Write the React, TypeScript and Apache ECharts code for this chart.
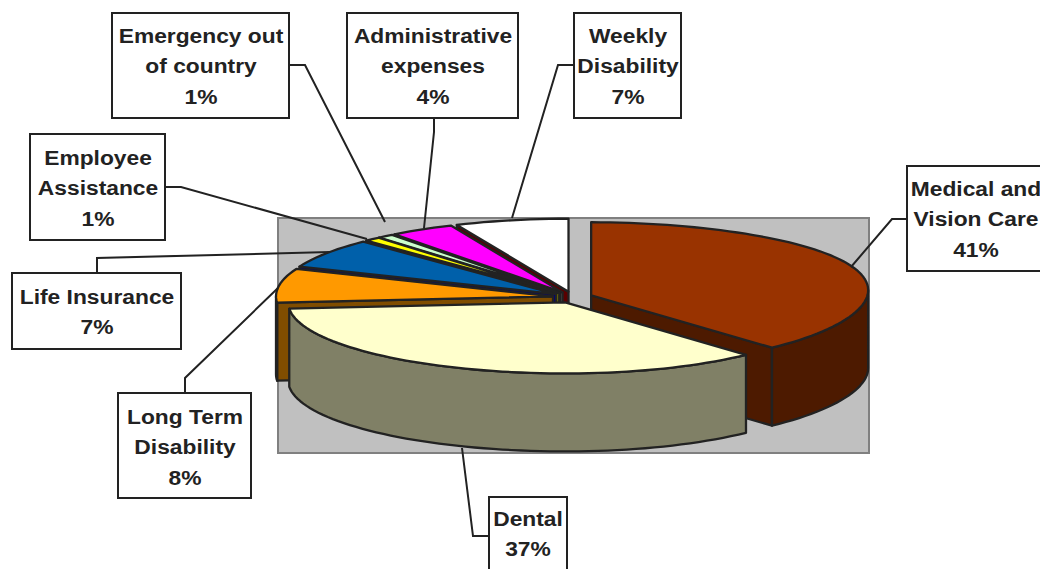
import React, { useEffect, useRef } from "react";
import * as echarts from "echarts";

const categories = [
  "Medical and\nVision Care",
  "Dental",
  "Long Term\nDisability",
  "Life Insurance",
  "Employee\nAssistance",
  "Emergency out\nof country",
  "Administrative\nexpenses",
  "Weekly\nDisability",
];
const shares = [41, 37, 8, 7, 1, 1, 4, 7];
const topColors = ["#993300", "#FFFFCC", "#FF9900", "#0060AA", "#FFFF00", "#CCFFCC", "#FF00FF", "#FFFFFF"];
const sideColors = ["#4D1A00", "#808066", "#804D00", "#000080", "#808000", "#707870", "#787878", "#5A0000"];
const drawOrder = [7, 6, 5, 4, 3, 2, 0, 1];

// layout of the label boxes: [left, top, right, bottom, text centre x, first-line centre y]
const boxes = [
  [907, 166, 1060, 271, 976, 188],
  [489, 497, 567, 580, 528, 518],
  [118, 393, 251, 498, 185, 416],
  [12, 273, 181, 349, 97, 296],
  [30, 134, 165, 240, 98, 157],
  [112, 13, 289, 118, 201, 35],
  [347, 13, 518, 118, 433, 35],
  [574, 13, 681, 118, 628, 35],
];
const leaders = [
  [[907, 219], [892, 219], [851, 267]],
  [[489, 536], [473, 536], [462, 448]],
  [[185, 393], [185, 378], [278, 288]],
  [[97, 273], [97, 258], [330, 252]],
  [[165, 187], [181, 187], [367, 239]],
  [[289, 65], [305, 65], [385, 222]],
  [[434, 118], [434, 132], [424, 228]],
  [[574, 65], [558, 65], [512, 218]],
];

const CX = 572.6, CY = 297.2, RX = 277, RY_BACK = 73, RY_FRONT = 71, EX = 19.8, EY = 5.6, DEPTH = 78, TILT = 5;
const INK = "#222222";

export default function App() {
  const ref = useRef<HTMLDivElement>(null);
  useEffect(() => {
    document.body.style.margin = "0";
    const chart = echarts.init(ref.current!, null, { renderer: "svg" });
    const total = shares.reduce((a, b) => a + b, 0);
    const spans: number[][] = [];
    let acc = 0;
    shares.forEach((s) => {
      spans.push([(acc / total) * 360, ((acc + s) / total) * 360]);
      acc += s;
    });
    const rad = (d: number) => (d * Math.PI) / 180;

    const renderItem = (_p: any, api: any) => {
      const i = api.value(0) as number;
      const [a0, a1] = spans[i];
      const mid = rad((a0 + a1) / 2);
      const ax = CX + EX * Math.sin(mid);
      const ay = CY - EY * Math.cos(mid);
      const pt = (deg: number, dz = 0) => {
        const sn = Math.sin(rad(deg));
        const cs = Math.cos(rad(deg));
        const ry = cs >= 0 ? RY_BACK : RY_FRONT;
        const tilt = sn > 0 ? TILT * sn * sn * sn : 0;
        return [ax + RX * sn, ay - ry * cs - tilt + dz];
      };
      const arc = (from: number, to: number, dz = 0) => {
        const out: number[][] = [];
        const n = Math.max(2, Math.ceil((to - from) / 2));
        for (let k = 0; k <= n; k++) out.push(pt(from + ((to - from) * k) / n, dz));
        return out;
      };
      const top = topColors[i];
      const side = sideColors[i];
      const face = (points: number[][], fill: string) => ({
        type: "polygon",
        shape: { points },
        style: { fill, stroke: INK, lineWidth: 2.3, lineJoin: "round" },
      });
      const children: any[] = [];
      const s0 = Math.sin(rad(a0));
      const s1 = Math.sin(rad(a1));
      if (s0 < -1e-6) children.push(face([[ax, ay], pt(a0), pt(a0, DEPTH), [ax, ay + DEPTH]], side));
      if (s1 > 1e-6) children.push(face([[ax, ay], pt(a1), pt(a1, DEPTH), [ax, ay + DEPTH]], side));
      const w0 = Math.max(a0, 90);
      const w1 = Math.min(a1, 270);
      if (w1 > w0) children.push(face([...arc(w0, w1), ...arc(w0, w1, DEPTH).reverse()], side));
      children.push(face([[ax, ay], ...arc(a0, a1)], top));
      return { type: "group", children };
    };

    const labelGraphics: any[] = [];
    categories.forEach((name, i) => {
      const [l, t, r, b, tx, ty] = boxes[i];
      labelGraphics.push({
        type: "polyline",
        z: 20,
        shape: { points: leaders[i] },
        style: { stroke: INK, lineWidth: 2, fill: "none" },
      });
      labelGraphics.push({
        type: "rect",
        z: 21,
        shape: { x: l, y: t, width: r - l, height: b - t },
        style: { fill: "#FFFFFF", stroke: INK, lineWidth: 2 },
      });
      labelGraphics.push({
        type: "text",
        z: 22,
        x: tx,
        y: ty - 14.7,
        scaleX: 1.085,
        style: {
          text: `${name}\n${shares[i]}%`,
          x: 0,
          y: 0,
          align: "center",
          verticalAlign: "top",
          lineHeight: 30.5,
          font: "bold 21px 'Liberation Sans', Arial, sans-serif",
          fill: INK,
        },
      });
    });

    chart.setOption({
      animation: false,
      backgroundColor: "#FFFFFF",
      graphic: [
        {
          type: "rect",
          z: 0,
          shape: { x: 278, y: 218, width: 591, height: 235 },
          style: { fill: "#C0C0C0", stroke: "#808080", lineWidth: 2 },
        },
        ...labelGraphics,
      ],
      series: [
        {
          type: "custom",
          coordinateSystem: "none",
          z: 5,
          renderItem,
          data: drawOrder.map((i) => ({ name: categories[i], value: [i, shares[i]] })),
        },
      ],
    });
    return () => chart.dispose();
  }, []);
  return (
    <div
      ref={ref}
      style={{ position: "absolute", left: 0, top: 0, width: 1040, height: 569, overflow: "hidden" }}
    />
  );
}
